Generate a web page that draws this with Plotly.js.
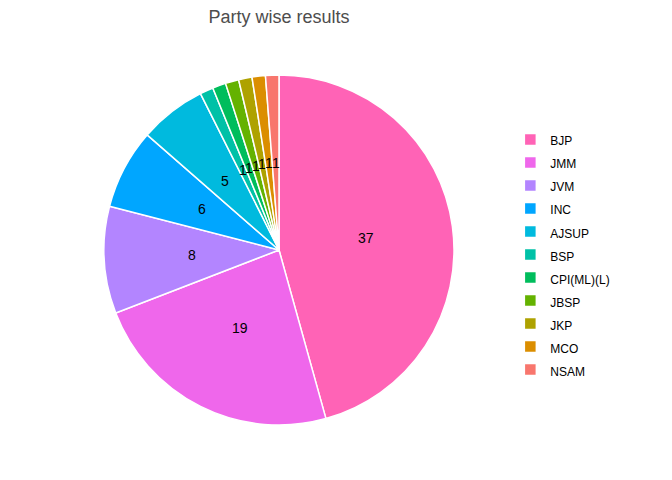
<!DOCTYPE html>
<html>
<head>
<meta charset="utf-8">
<script src="https://cdn.plot.ly/plotly-3.0.1.min.js"></script>
<style>html,body{margin:0;padding:0;background:#fff;}#chart{width:672px;height:480px;}</style>
</head>
<body>
<div id="chart"></div>
<script>
const parties = ["BJP","JMM","JVM","INC","AJSUP","BSP","CPI(ML)(L)","JBSP","JKP","MCO","NSAM"];
const seats = [37,19,8,6,5,1,1,1,1,1,1];
const colors = ["#FF63B6","#EF67EB","#B385FF","#00A6FF","#00BADE","#00C1A7","#00BD5C","#64B200","#AEA200","#DB8E00","#F8766D"];

const total = seats.reduce((a,b)=>a+b,0);
const annotations = [];
let cum = 0;
seats.forEach((v,i)=>{
  const mid = (cum + v/2)/total*2*Math.PI;
  cum += v;
  annotations.push({
    x: 0.5 + 0.25*Math.sin(mid), y: 0.5 + 0.25*Math.cos(mid),
    xref:'paper', yref:'paper', xanchor:'center', yanchor:'middle',
    text: String(v), showarrow:false,
    font:{family:'Liberation Sans, Arial, sans-serif', size:14, color:'#000'}
  });
});

const legendLabels = parties.map(p => '<span style="font-size:12px">' + p + '</span>');

const trace = {
  type:'pie', labels: legendLabels, values: seats, sort:false, direction:'clockwise', rotation:0,
  marker:{colors: colors, line:{color:'#fff', width:1.5}},
  textinfo:'none', hoverinfo:'label+value'
};
const layout = {
  width:672, height:480,
  margin:{l:104, r:218, t:75, b:55},
  paper_bgcolor:'#fff',
  font:{family:'Liberation Sans, Arial, sans-serif', color:'#000'},
  title:{text:'Party wise results', x:0.5, xref:'paper', y:0.966, yref:'container', yanchor:'middle',
    font:{family:'Liberation Sans, Arial, sans-serif', size:18, color:'#4D4D4D'}},
  showlegend:true,
  legend:{x:1.161, xanchor:'left', y:0.486, yanchor:'middle', font:{size:15.4, color:'#000'}, itemwidth:30, tracegroupgap:0},
  annotations: annotations
};
Plotly.newPlot('chart',[trace],layout,{displayModeBar:false, staticPlot:true});
</script>
</body>
</html>
